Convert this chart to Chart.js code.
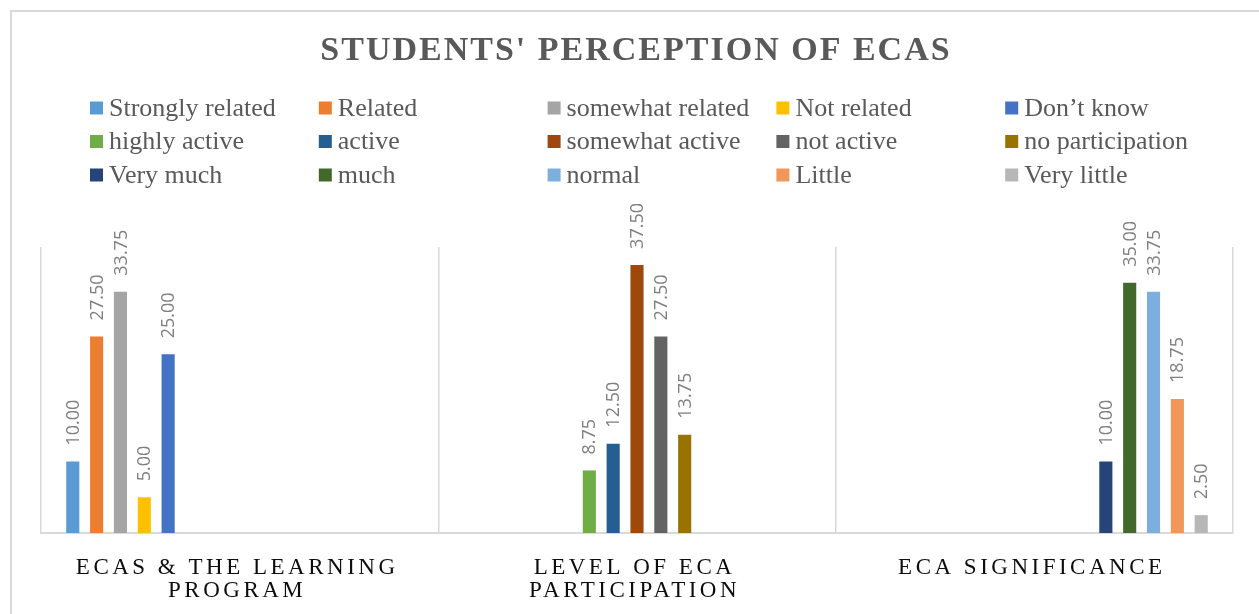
<!DOCTYPE html>
<html>
<head>
<meta charset="utf-8">
<title>Students' perception of ECAs</title>
<script src="https://cdn.jsdelivr.net/npm/chart.js@4.4.1/dist/chart.umd.min.js"></script>
<style>
  html, body { margin: 0; padding: 0; background: #fff; }
  canvas { display: block; }
</style>
</head>
<body>
<canvas id="ecaChart" width="1259" height="614"></canvas>
<script>
// chart data
var chartTitle = "STUDENTS' PERCEPTION OF ECAS";
var categories = [["ECAS & THE LEARNING", "PROGRAM"], ["LEVEL OF ECA", "PARTICIPATION"], ["ECA SIGNIFICANCE"]];

var relationLabels = ["Strongly related", "Related", "somewhat related", "Not related", "Don\u2019t know"];
var relationValues = [10.00, 27.50, 33.75, 5.00, 25.00];

var participationLabels = ["highly active", "active", "somewhat active", "not active", "no participation"];
var participationValues = [8.75, 12.50, 37.50, 27.50, 13.75];

var significanceLabels = ["Very much", "much", "normal", "Little", "Very little"];
var significanceValues = [10.00, 35.00, 33.75, 18.75, 2.50];

var seriesColors = [
  "#5B9BD5", "#ED7D31", "#A5A5A5", "#FFC000", "#4472C4",
  "#70AD47", "#255E91", "#9E480E", "#636363", "#997300",
  "#264478", "#43682B", "#7CAFDD", "#F1975A", "#B7B7B7"
];

// one dataset per answer, only filled in its own category
var groups = [
  [relationLabels, relationValues],
  [participationLabels, participationValues],
  [significanceLabels, significanceValues]
];
var datasets = [];
groups.forEach(function (g, ci) {
  g[0].forEach(function (name, k) {
    var data = categories.map(function () { return null; });
    data[ci] = g[1][k];
    datasets.push({
      label: name,
      data: data,
      backgroundColor: seriesColors[datasets.length],
      categoryPercentage: 0.9,
      barPercentage: 0.55
    });
  });
});

var textGray = "#595959";

// frame, title and legend grid
var chartDecor = {
  id: "chartDecor",
  beforeDraw: function (chart) {
    var ctx = chart.ctx;
    ctx.save();
    ctx.strokeStyle = "#d9d9d9";
    ctx.lineWidth = 2;
    ctx.beginPath();
    ctx.moveTo(11, chart.height);
    ctx.lineTo(11, 11);
    ctx.lineTo(chart.width, 11);
    ctx.stroke();

    ctx.fillStyle = textGray;
    ctx.font = 'bold 34px "Liberation Serif"';
    ctx.letterSpacing = "2px";
    ctx.textAlign = "center";
    ctx.textBaseline = "alphabetic";
    ctx.fillText(chartTitle, 636, 60);
    ctx.letterSpacing = "0px";

    ctx.font = '26px "Liberation Serif"';
    ctx.textAlign = "left";
    ctx.textBaseline = "middle";
    chart.data.datasets.forEach(function (ds, i) {
      var x = 90 + (i % 5) * 228.8;
      var y = 108 + Math.floor(i / 5) * 33.5;
      ctx.fillStyle = ds.backgroundColor;
      ctx.fillRect(x, y - 6.5, 13, 13);
      ctx.fillStyle = textGray;
      ctx.fillText(ds.label, x + 19, y + 1);
    });
    ctx.restore();
  },
  afterDatasetsDraw: function (chart) {
    var ctx = chart.ctx;
    ctx.save();
    ctx.fillStyle = "#808080";
    ctx.font = '18px "Open Sans"';
    ctx.textAlign = "left";
    ctx.textBaseline = "middle";
    chart.data.datasets.forEach(function (ds, i) {
      var meta = chart.getDatasetMeta(i);
      meta.data.forEach(function (bar, j) {
        var v = ds.data[j];
        if (v === null) return;
        ctx.save();
        ctx.translate(bar.x, bar.y - 16);
        ctx.rotate(-Math.PI / 2);
        ctx.fillText(v.toFixed(2), 0, 1);
        ctx.restore();
      });
    });
    ctx.restore();
  },
  afterDraw: function (chart) {
    var ctx = chart.ctx;
    var xs = chart.scales.x;
    ctx.save();
    ctx.fillStyle = "#0d0d0d";
    ctx.font = '23px "Liberation Serif"';
    ctx.letterSpacing = "3.5px";
    ctx.textAlign = "center";
    ctx.textBaseline = "alphabetic";
    chart.data.labels.forEach(function (lines, i) {
      var cx = xs.getPixelForValue(i) - 2.5;
      lines.forEach(function (line, k) {
        ctx.fillText(line, cx, 574 + k * 22.5);
      });
    });
    ctx.restore();
  }
};

new Chart(document.getElementById("ecaChart"), {
  type: "bar",
  data: { labels: categories, datasets: datasets },
  options: {
    responsive: false,
    animation: false,
    layout: { padding: { left: 41, right: 26, top: 247, bottom: 81 } },
    plugins: {
      legend: { display: false },
      title: { display: false },
      tooltip: { enabled: false }
    },
    scales: {
      x: {
        grid: { offset: true, color: "#d9d9d9", lineWidth: 1.5, drawTicks: false },
        border: { color: "#d9d9d9", width: 2 },
        ticks: { display: false }
      },
      y: {
        display: false,
        min: 0,
        max: 40
      }
    }
  },
  plugins: [chartDecor]
});
</script>
</body>
</html>
